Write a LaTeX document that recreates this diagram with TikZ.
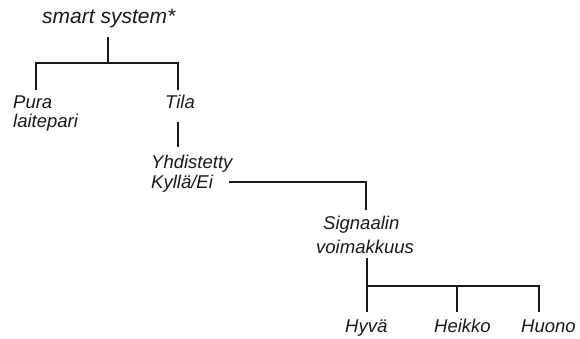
\documentclass[tikz,border=0pt]{standalone}
\usepackage{fontspec}
\setmainfont{Liberation Sans}
\begin{document}
\begin{tikzpicture}[x=1pt,y=-1pt,
  lbl/.style={anchor=base west,inner sep=0pt,font=\fontsize{18.5}{20}\selectfont\itshape,text=black!90},
  ln/.style={line width=1.4pt,black!90}]
\useasboundingbox (0,0) rectangle (580,339);
% texts
\node[lbl,font=\fontsize{21}{22}\selectfont\itshape] (top) at (42,24) {smart system*};
\node[lbl] (pura) at (13,109) {Pura};
\node[lbl] (lait) at (13,128) {laitepari};
\node[lbl] (tila) at (165,109) {Tila};
\node[lbl] (yhd) at (151,168) {Yhdistetty};
\node[lbl] (kyl) at (151,188) {Kyllä/Ei};
\node[lbl] (sig) at (323,229) {Signaalin};
\node[lbl] (voi) at (316,253) {voimakkuus};
\node[lbl] (hyv) at (345,332) {Hyvä};
\node[lbl] (hei) at (434,332) {Heikko};
\node[lbl] (huo) at (521,332) {Huono};
% junction coordinates
\coordinate (a0) at (108,37);
\coordinate (a1) at (108,63);
\coordinate (aL) at (36,63);
\coordinate (aR) at (178,63);
\coordinate (aLd) at (36,90);
\coordinate (aRd) at (178,90);
\coordinate (b0) at (178,122);
\coordinate (b1) at (178,147);
\coordinate (c0) at (229,182);
\coordinate (c1) at (366,182);
\coordinate (c2) at (366,210);
\coordinate (d0) at (367,258);
\coordinate (d1) at (367,286);
\coordinate (dR) at (539,286);
\coordinate (dM) at (457,286);
\coordinate (dLd) at (367,312);
\coordinate (dMd) at (457,312);
\coordinate (dRd) at (539,312);
% connectors
\draw[ln] (a0) -- (a1);
\draw[ln] (aLd) -- (aL) -- (aR) -- (aRd);
\draw[ln] (b0) -- (b1);
\draw[ln] (c0) -- (c1) -- (c2);
\draw[ln] (d0) -- (dLd);
\draw[ln] (d1) -- (dR) -- (dRd);
\draw[ln] (dM) -- (dMd);
\end{tikzpicture}
\end{document}
